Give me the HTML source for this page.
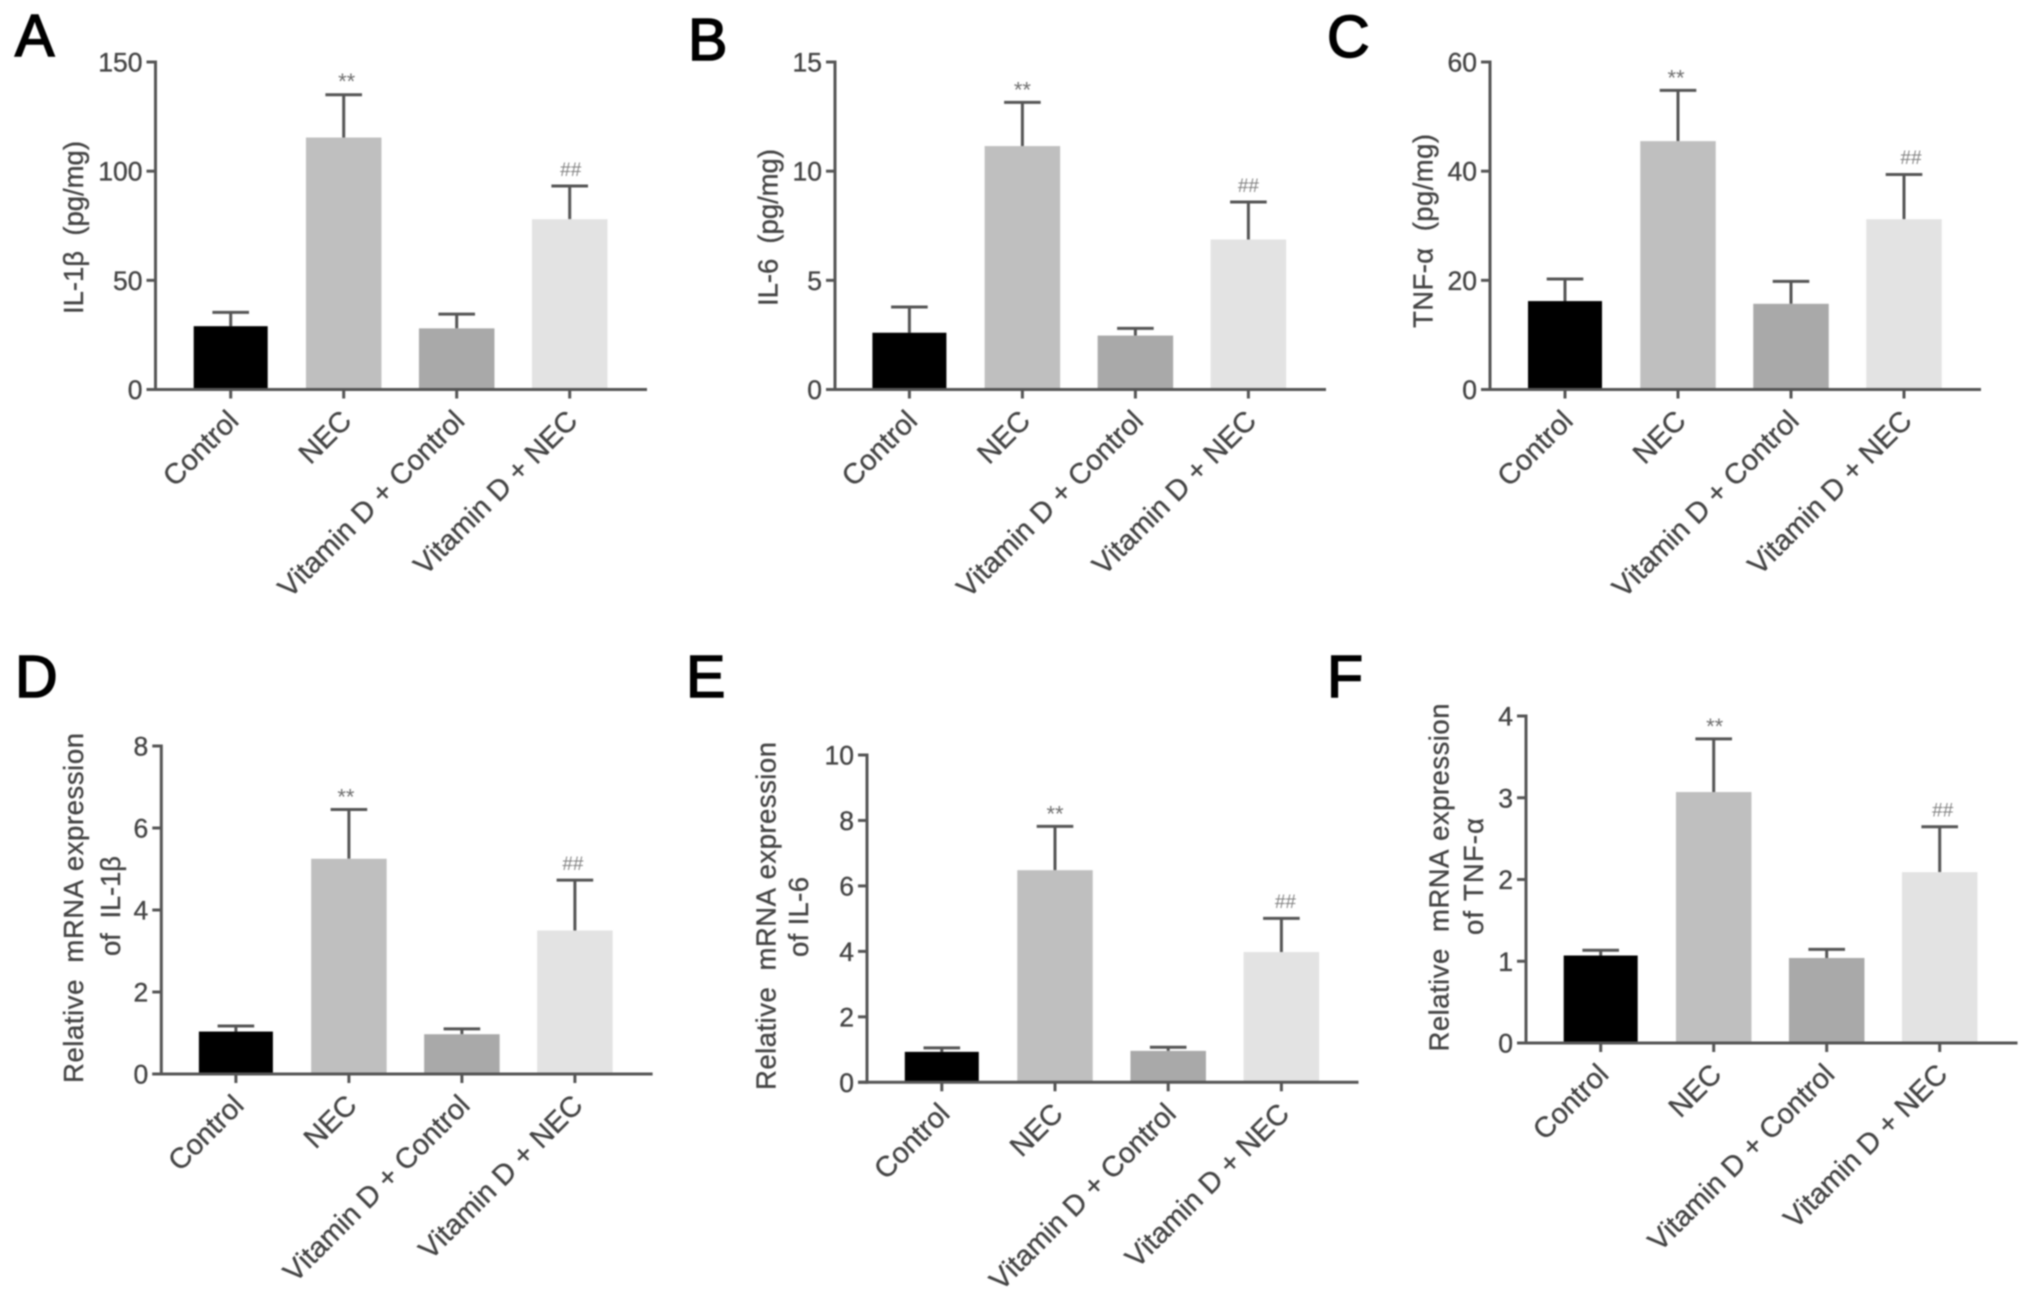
<!DOCTYPE html>
<html lang="en">
<head>
<meta charset="utf-8">
<title>Cytokine levels and mRNA expression bar charts</title>
<style>
  html, body { margin: 0; padding: 0; background: #fff; }
  #figure { display: block; width: 2031px; height: 1305px; filter: blur(0.8px); }
  text { font-family: "Liberation Sans", "DejaVu Sans", sans-serif; white-space: pre; font-kerning: none; }
</style>
</head>
<body>
<svg id="figure" xmlns="http://www.w3.org/2000/svg" width="2031" height="1305" viewBox="0 0 2031 1305"></svg>
<script>
// ---- Data ----
const categories = ['Control', 'NEC', 'Vitamin D + Control', 'Vitamin D + NEC'];
const significance = ['', '**', '', '##'];

const panelAMeans = [29, 115.4, 28, 78];
const panelAErrors = [6.3, 19.6, 6.5, 15.2];
const panelATicks = [0, 50, 100, 150];

const panelBMeans = [2.6, 11.15, 2.47, 6.87];
const panelBErrors = [1.18, 2.0, 0.33, 1.72];
const panelBTicks = [0, 5, 10, 15];

const panelCMeans = [16.2, 45.5, 15.7, 31.2];
const panelCErrors = [4.05, 9.3, 4.1, 8.2];
const panelCTicks = [0, 20, 40, 60];

const panelDMeans = [1.035, 5.25, 0.97, 3.5];
const panelDErrors = [0.135, 1.2, 0.13, 1.23];
const panelDTicks = [0, 2, 4, 6, 8];

const panelEMeans = [0.93, 6.48, 0.96, 3.98];
const panelEErrors = [0.12, 1.34, 0.11, 1.03];
const panelETicks = [0, 2, 4, 6, 8, 10];

const panelFMeans = [1.07, 3.07, 1.04, 2.09];
const panelFErrors = [0.065, 0.65, 0.105, 0.555];
const panelFTicks = [0, 1, 2, 3, 4];

// ---- Layout (pixels) ----
const barColors = ['#000000', '#bfbfbf', '#a9a9a9', '#e3e3e3'];
const barWidths = [74, 75.5, 75.5, 75.5];
const AXIS = '#555555';
const TEXT = '#444444';
const SVGNS = 'http://www.w3.org/2000/svg';
const svg = document.getElementById('figure');

const panels = [
  { id: 'a', letter: 'A', lx: 15, ly: 56, means: panelAMeans, errors: panelAErrors, ticks: panelATicks,
    axisX: 155.5, top: 62, zero: 389.5, right: 647, first: 230.7, step: 113, starDx: 3, hashDx: 1, starUp: 2,
    titles: [{ t: 'IL-1β  (pg/mg)', x: 83, y: 227.5, len: 173 }] },
  { id: 'b', letter: 'B', lx: 688, ly: 60, means: panelBMeans, errors: panelBErrors, ticks: panelBTicks,
    axisX: 835, top: 62, zero: 389.5, right: 1326, first: 909.4, step: 113, starDx: 0, hashDx: 0, starUp: 1,
    titles: [{ t: 'IL-6  (pg/mg)', x: 777.5, y: 227.5, len: 157 }] },
  { id: 'c', letter: 'C', lx: 1327, ly: 57, means: panelCMeans, errors: panelCErrors, ticks: panelCTicks,
    axisX: 1490, top: 62, zero: 389.5, right: 1981, first: 1565, step: 113, starDx: -2, hashDx: 7, starUp: 1,
    titles: [{ t: 'TNF-α  (pg/mg)', x: 1432.5, y: 231, len: 194 }] },
  { id: 'd', letter: 'D', lx: 15, ly: 697, means: panelDMeans, errors: panelDErrors, ticks: panelDTicks,
    axisX: 161.3, top: 746, zero: 1074, right: 652.6, first: 235.9, step: 113, starDx: -3, hashDx: -2, starUp: 1,
    titles: [{ t: 'Relative  mRNA expression', x: 83, y: 908, len: 350 },
             { t: 'of  IL-1β', x: 120, y: 906, len: 100 }] },
  { id: 'e', letter: 'E', lx: 686, ly: 697, means: panelEMeans, errors: panelEErrors, ticks: panelETicks,
    axisX: 867, top: 755, zero: 1082.3, right: 1358.5, first: 941.8, step: 113.2, starDx: 0, hashDx: 4, starUp: 1,
    titles: [{ t: 'Relative  mRNA expression', x: 775.5, y: 916, len: 348 },
             { t: 'of IL-6', x: 808, y: 917, len: 80 }] },
  { id: 'f', letter: 'F', lx: 1327, ly: 697, means: panelFMeans, errors: panelFErrors, ticks: panelFTicks,
    axisX: 1526, top: 716, zero: 1043, right: 2017.5, first: 1600.7, step: 113, starDx: 1, hashDx: 3, starUp: 1,
    titles: [{ t: 'Relative  mRNA expression', x: 1448.5, y: 877.5, len: 348 },
             { t: 'of TNF-α', x: 1483, y: 876.5, len: 117 }] }
];

function make(tag, attrs, parent) {
  const el = document.createElementNS(SVGNS, tag);
  for (const k in attrs) el.setAttribute(k, attrs[k]);
  parent.appendChild(el);
  return el;
}
function line(x1, y1, x2, y2, parent) {
  return make('line', { x1: x1, y1: y1, x2: x2, y2: y2, stroke: AXIS, 'stroke-width': 3 }, parent);
}

panels.forEach(function (p) {
  const maxV = p.ticks[p.ticks.length - 1];
  const yScale = function (v) { return p.zero - (v / maxV) * (p.zero - p.top); };
  const xScale = function (i) { return p.first + i * p.step; };
  const capHalf = 18.3, tickLen = 9;

  const g = make('g', {}, svg);
  
  

  const letter = make('text', { x: p.lx, y: p.ly, 'font-size': 59, fill: '#000', stroke: '#000', 'stroke-width': 1.6 }, g);
  letter.textContent = p.letter;
  
  

  p.titles.forEach(function (t, i) {
    const el = make('text', {
      x: t.x, y: t.y, 'font-size': 27.5, fill: TEXT, stroke: TEXT, 'stroke-width': 0.35, 'text-anchor': 'middle',
      transform: 'rotate(-90 ' + t.x + ' ' + t.y + ')', textLength: t.len, lengthAdjust: 'spacing'
    }, g);
    el.textContent = t.t;
    
    
  });

  // Bars and error bars
  p.means.forEach(function (m, i) {
    const cx = xScale(i);
    const yTop = yScale(m);
    const yErr = yScale(m + p.errors[i]);

    const stem = line(cx, yTop, cx, yErr, g);
    
    

    const cap = line(cx - capHalf, yErr, cx + capHalf, yErr, g);
    
    

    const barW = barWidths[i];
    const bar = make('rect', { x: cx - barW / 2, y: yTop, width: barW, height: p.zero - yTop, fill: barColors[i] }, g);
    
    

    if (significance[i] === '**') {
      const star = make('text', { x: cx + p.starDx, y: yErr - 16 - p.starUp + 12, 'font-size': 22, fill: '#707070', 'text-anchor': 'middle' }, g);
      star.textContent = significance[i];
      
      
    } else if (significance[i] === '##') {
      const hash = make('text', { x: cx + p.hashDx, y: yErr - 16.5 + 6.3, 'font-size': 19, fill: '#808080', 'text-anchor': 'middle' }, g);
      hash.textContent = significance[i];
      
      
    }

    const tick = line(cx, p.zero, cx, p.zero + tickLen, g);
    
    

    const ax = cx + 9.5, ay = p.zero + 33;
    const label = make('text', {
      x: ax, y: ay, 'font-size': 28.7, fill: TEXT, stroke: TEXT, 'stroke-width': 0.35, 'text-anchor': 'end',
      transform: 'rotate(-45 ' + ax + ' ' + ay + ')'
    }, g);
    label.textContent = categories[i];
    
    
  });

  // Axes
  const yAxis = line(p.axisX, p.top - 1.5, p.axisX, p.zero + 1.5, g);
  
  

  const xAxis = line(p.axisX - tickLen, p.zero, p.right, p.zero, g);
  
  

  p.ticks.forEach(function (v) {
    const y = yScale(v);
    const tick = line(p.axisX - tickLen, y, p.axisX, y, g);
    
    

    const lab = make('text', { x: p.axisX - 13, y: y + 9.5, 'font-size': 26.5, fill: TEXT, stroke: TEXT, 'stroke-width': 0.35, 'text-anchor': 'end' }, g);
    lab.textContent = String(v);
    
    
  });
});
</script>
</body>
</html>
